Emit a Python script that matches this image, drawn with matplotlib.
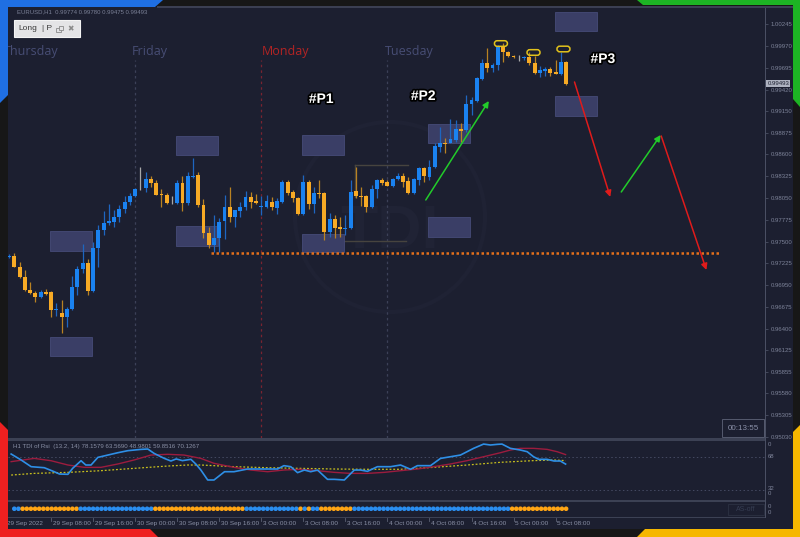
import numpy as np
import matplotlib
matplotlib.use("Agg")
import matplotlib.pyplot as plt
from matplotlib.patches import Rectangle, Polygon, FancyBboxPatch, Circle
from matplotlib import transforms
import matplotlib.patheffects as pe

W, H = 800, 537
BG = "#1c1f30"
FRAME = "#171717"

# EURUSD H1, 29 Sep 00:00 -> 5 Oct 10:00 (one entry per bar)
opens = [
    0.97305, 0.97317, 0.97178, 0.97052, 0.96888, 0.96850, 0.96799, 0.96856, 0.96862, 0.96635,
    0.96597, 0.96546, 0.96648, 0.96925, 0.97153, 0.97229, 0.96875, 0.97418, 0.97646, 0.97734,
    0.97747, 0.97810, 0.97911, 0.97999, 0.98075, 0.98164, 0.98176, 0.98290, 0.98240, 0.98101,
    0.98088, 0.97987, 0.97987, 0.98240, 0.97987, 0.98315, 0.98341, 0.97962, 0.97608, 0.97456,
    0.97545, 0.97760, 0.97936, 0.97810, 0.97886, 0.97936, 0.98063, 0.98012, 0.97936, 0.97936,
    0.97999, 0.97924, 0.97999, 0.98252, 0.98126, 0.98050, 0.97848, 0.98252, 0.97974, 0.98113,
    0.98113, 0.97620, 0.97785, 0.97684, 0.97658, 0.97671, 0.98139, 0.98075, 0.98075, 0.97936,
    0.98164, 0.98278, 0.98252, 0.98202, 0.98290, 0.98328, 0.98265, 0.98113, 0.98278, 0.98429,
    0.98315, 0.98442, 0.98695, 0.98745, 0.98745, 0.98783, 0.98922, 0.98909, 0.99238, 0.99276,
    0.99554, 0.99756, 0.99693, 0.99731, 0.99971, 0.99895, 0.99844, 0.99832, 0.99819, 0.99832,
    0.99756, 0.99630, 0.99655, 0.99680, 0.99642, 0.99617, 0.99774]
highs = [
    0.97343, 0.97355, 0.97241, 0.97140, 0.96989, 0.96875, 0.96888, 0.96900, 0.96875, 0.96723,
    0.96761, 0.96673, 0.97065, 0.97191, 0.97469, 0.97279, 0.97494, 0.97709, 0.97886, 0.97974,
    0.97898, 0.97962, 0.98075, 0.98113, 0.98176, 0.98442, 0.98379, 0.98328, 0.98278, 0.98164,
    0.98113, 0.98075, 0.98278, 0.98328, 0.98379, 0.98556, 0.98379, 0.98038, 0.97684, 0.97835,
    0.97797, 0.98088, 0.98189, 0.97898, 0.97999, 0.98139, 0.98126, 0.98101, 0.98075, 0.98088,
    0.98063, 0.98050, 0.98278, 0.98278, 0.98151, 0.98063, 0.98341, 0.98278, 0.98189, 0.98278,
    0.98126, 0.97861, 0.97835, 0.97810, 0.97835, 0.98278, 0.98442, 0.98189, 0.98088, 0.98214,
    0.98290, 0.98303, 0.98278, 0.98303, 0.98366, 0.98366, 0.98315, 0.98303, 0.98442, 0.98442,
    0.98530, 0.98745, 0.98947, 0.98808, 0.99048, 0.99036, 0.98998, 0.99352, 0.99326, 0.99579,
    0.99807, 0.99946, 0.99756, 0.99983, 1.00009, 0.99908, 0.99851, 0.99857, 0.99844, 0.99895,
    0.99844, 0.99718, 0.99705, 0.99705, 0.99794, 0.99895, 0.99780]
lows = [
    0.97292, 0.97172, 0.97039, 0.96875, 0.96837, 0.96736, 0.96787, 0.96824, 0.96546, 0.96559,
    0.96344, 0.96420, 0.96635, 0.96824, 0.97102, 0.96824, 0.96862, 0.97178, 0.97583, 0.97709,
    0.97684, 0.97747, 0.97861, 0.97962, 0.98063, 0.98151, 0.98126, 0.98189, 0.98082, 0.97936,
    0.97974, 0.97974, 0.97974, 0.97886, 0.97962, 0.98303, 0.97936, 0.97545, 0.97418, 0.97368,
    0.97368, 0.97532, 0.97747, 0.97684, 0.97810, 0.97898, 0.97924, 0.97974, 0.97835, 0.97924,
    0.97898, 0.97848, 0.97987, 0.98088, 0.97999, 0.97835, 0.97835, 0.97911, 0.97861, 0.98050,
    0.97519, 0.97557, 0.97545, 0.97557, 0.97583, 0.97658, 0.98050, 0.97949, 0.97873, 0.97924,
    0.98050, 0.98214, 0.98196, 0.98189, 0.98278, 0.98189, 0.98101, 0.98101, 0.98214, 0.98252,
    0.98278, 0.98429, 0.98631, 0.98619, 0.98739, 0.98758, 0.98758, 0.98884, 0.99099, 0.99263,
    0.99541, 0.99642, 0.99642, 0.99668, 0.99769, 0.99832, 0.99825, 0.99781, 0.99794, 0.99731,
    0.99623, 0.99579, 0.99592, 0.99592, 0.99611, 0.99604, 0.99475]
closes = [
    0.97317, 0.97178, 0.97052, 0.96888, 0.96850, 0.96799, 0.96862, 0.96837, 0.96635, 0.96648,
    0.96546, 0.96648, 0.96925, 0.97153, 0.97229, 0.96875, 0.97418, 0.97646, 0.97734, 0.97760,
    0.97810, 0.97911, 0.97999, 0.98075, 0.98164, 0.98164, 0.98290, 0.98240, 0.98088, 0.98088,
    0.97987, 0.97987, 0.98240, 0.97987, 0.98328, 0.98328, 0.97962, 0.97608, 0.97456, 0.97545,
    0.97747, 0.97936, 0.97810, 0.97898, 0.97936, 0.98063, 0.97999, 0.97987, 0.97949, 0.98012,
    0.97936, 0.98012, 0.98252, 0.98113, 0.98050, 0.97848, 0.98252, 0.97974, 0.98113, 0.98101,
    0.97620, 0.97785, 0.97671, 0.97658, 0.97671, 0.98126, 0.98075, 0.98063, 0.97936, 0.98164,
    0.98278, 0.98240, 0.98202, 0.98290, 0.98328, 0.98252, 0.98113, 0.98290, 0.98429, 0.98328,
    0.98442, 0.98707, 0.98745, 0.98733, 0.98796, 0.98922, 0.98897, 0.99238, 0.99288, 0.99566,
    0.99756, 0.99693, 0.99731, 0.99971, 0.99895, 0.99844, 0.99832, 0.99832, 0.99832, 0.99756,
    0.99630, 0.99668, 0.99680, 0.99630, 0.99617, 0.99769, 0.99493]

price_ticks = [1.00245, 0.99970, 0.99695, 0.99420, 0.99150, 0.98875, 0.98600, 0.98325, 0.98050,
               0.97775, 0.97500, 0.97225, 0.96950, 0.96675, 0.96400, 0.96125, 0.95855, 0.95580,
               0.95305, 0.95030]
last_price = 0.99493

# session boxes, 08:00-16:00 each day
zone_start = [8, 32, 56, 80, 104]
zone_len = 8
upper_top = [0.97633, 0.98834, 0.98846, 0.98985, 1.00400]
upper_bot = [0.97380, 0.98593, 0.98593, 0.98745, 1.00160]
lower_top = [0.96294, 0.97696, 0.97595, 0.97810, 0.99339]
lower_bot = [0.96054, 0.97444, 0.97368, 0.97557, 0.99086]

support_level = 0.97355
support_bars = (38.4, 135.4)

# drawn arrows (bar, price) -> (bar, price)
arrow_from = [(79.3, 0.98025), (107.6, 0.99516), (116.5, 0.98126), (124.1, 0.98834)]
arrow_to = [(91.3, 0.99276), (114.4, 0.98063), (124.0, 0.98846), (132.7, 0.97140)]
arrow_cols = ["#22cc2a", "#e01b1b", "#22cc2a", "#e01b1b"]

labels_p = ["#P1", "#P2", "#P3"]
labels_bar = [59.4, 78.8, 113.0]
labels_price = [0.99301, 0.99339, 0.99807]

top_marks_bar = [93.6, 99.8, 105.5]
top_marks_price = [1.00002, 0.99889, 0.99933]

day_names = ["Thursday", "Friday", "Monday", "Tuesday"]
day_label_bar = [-1.0, 23.4, 48.0, 71.6]
day_start = [24, 48, 72]

time_labels = ["29 Sep 2022", "29 Sep 08:00", "29 Sep 16:00", "30 Sep 00:00", "30 Sep 08:00",
               "30 Sep 16:00", "3 Oct 00:00", "3 Oct 08:00", "3 Oct 16:00", "4 Oct 00:00",
               "4 Oct 08:00", "4 Oct 16:00", "5 Oct 00:00", "5 Oct 08:00"]
time_bars = [-0.6, 8, 16, 24, 32, 40, 48, 56, 64, 72, 80, 88, 96, 104]

# TDI of RSI
tdi_title = "H1 TDI of Rsi  (13.2, 14) 78.1579 63.5690 48.9801 59.8516 70.1267"
rsi_bar = [0.4, 2.3, 4.2, 6.7, 8.6, 9.6, 11.2, 12.1, 13.7, 14.6, 15.6, 16.9, 18.8, 20.7, 22.6,
           25.1, 26.4, 27.6, 29.5, 30.8, 31.8, 33.0, 34.6, 35.6, 36.5, 37.8, 39.0, 41.0, 42.8,
           45.4, 48.5, 51.1, 52.3, 53.6, 54.9, 56.2, 57.4, 58.7, 60.6, 61.9, 63.8, 65.7, 66.9,
           68.2, 70.1, 72.6, 74.5, 76.4, 77.7, 80.2, 82.1, 84.0, 85.9, 88.4, 90.3, 91.6, 92.9,
           93.8, 95.4, 97.3, 98.6, 99.8, 100.8, 102.4, 103.7, 104.9, 105.9]
rsi_val = [70.7, 64.3, 57.1, 56.0, 51.7, 49.2, 48.9, 55.3, 63.5, 58.9, 58.9, 67.1, 69.6, 72.1,
           74.3, 75.7, 76.1, 71.4, 66.1, 63.2, 65.4, 63.6, 65.0, 59.6, 53.5, 42.8, 42.8, 51.7,
           51.7, 54.6, 54.6, 54.6, 58.2, 57.1, 50.7, 53.5, 51.7, 53.5, 43.5, 43.5, 42.8, 53.5,
           53.5, 52.1, 57.1, 57.1, 58.9, 54.3, 58.2, 58.2, 66.0, 67.8, 69.6, 76.8, 81.4, 80.4,
           81.1, 81.4, 76.8, 75.0, 73.2, 67.8, 65.0, 65.0, 63.2, 63.2, 59.9]
sig_bar = [0.4, 4.8, 8.0, 11.2, 14.3, 17.5, 20.7, 23.8, 27.0, 30.2, 33.3, 36.5, 39.0, 42.8,
           46.0, 49.2, 52.3, 55.5, 58.7, 61.9, 65.0, 68.2, 71.4, 74.5, 77.7, 80.8, 84.0, 87.2,
           90.3, 93.5, 95.4, 97.3, 99.8, 102.4, 104.3, 105.9]
sig_val = [62.5, 66.0, 63.5, 58.9, 56.4, 56.4, 60.0, 64.3, 69.6, 70.4, 69.6, 66.0, 60.7, 56.4,
           53.5, 51.7, 53.5, 54.3, 52.8, 51.0, 49.9, 49.9, 51.0, 52.8, 54.6, 57.1, 60.0, 63.6,
           67.8, 72.1, 75.0, 76.8, 76.8, 75.7, 73.2, 70.1]
mid_bar = [0.4, 4.8, 11.2, 17.5, 23.8, 30.2, 34.0, 36.5, 42.8, 49.2, 55.5, 61.9, 68.2, 74.5,
           80.8, 87.2, 93.5, 99.8, 103.7, 105.9]
mid_val = [48.1, 49.9, 51.0, 52.8, 55.3, 57.8, 58.9, 58.9, 57.1, 56.0, 55.3, 54.6, 54.3, 54.3,
           56.4, 58.9, 61.8, 63.6, 64.3, 63.6]

# trend dots, run lengths (b = up, o = down)
dot_runs = [("b", 2), ("o", 14), ("b", 18), ("o", 22), ("b", 13), ("o", 1), ("b", 1), ("o", 1),
            ("b", 2), ("o", 8), ("b", 38), ("o", 14)]


def box(x0, y0, x1, y1):
    return [x0 / W, 1 - y1 / H, (x1 - x0) / W, (y1 - y0) / H]


def ftext(x, y, s, **kw):
    fig.text(x / W, 1 - y / H, s, **kw)


def frect(x0, y0, x1, y1, fc, z=20, ec="none", lw=0):
    fig.add_artist(Rectangle((x0 / W, 1 - y1 / H), (x1 - x0) / W, (y1 - y0) / H,
                             transform=fig.transFigure, facecolor=fc, edgecolor=ec, lw=lw,
                             zorder=z))


def fpoly(pts, color):
    pts = np.array(pts, dtype=float)
    pts[:, 0] /= W
    pts[:, 1] = 1 - pts[:, 1] / H
    fig.add_artist(Polygon(pts, closed=True, transform=fig.transFigure, color=color, lw=0, zorder=30))


plt.rcParams["font.family"] = ["Liberation Sans", "DejaVu Sans"]
fig = plt.figure(figsize=(8, 5.37), dpi=100, facecolor=FRAME)

bg = fig.add_axes(box(8, 7, 793, 529), zorder=-10)
bg.set_facecolor(BG)
bg.set_xticks([])
bg.set_yticks([])
for s in bg.spines.values():
    s.set_visible(False)

XL = (-0.2, 143.85)

# watermark (very faint)
fig.add_artist(Circle((3.9, 3.2), 0.95, transform=fig.dpi_scale_trans, fill=False,
                      ec="#1f2234", lw=3, zorder=-5))
fig.text(3.9 / 8, 3.05 / 5.37, "TDI", color="#202335", fontsize=44, fontweight="bold",
         ha="center", va="center", zorder=-5)

# ---- main price panel ----
ax = fig.add_axes(box(8, 8, 765, 438))
ax.set_facecolor("none")
ax.set_xlim(*XL)
ax.set_ylim(0.95017, 1.00451)
for s in ax.spines.values():
    s.set_visible(False)
ax.set_xticks([])
ax.yaxis.tick_right()
ax.set_yticks(price_ticks)
ax.set_yticklabels([f"{v:.5f}" for v in price_ticks])
ax.tick_params(axis="y", length=2.5, width=0.6, color="#4a4f63", labelcolor="#7d8399",
               labelsize=4.3, pad=1.5)

t = np.arange(len(opens))
o = np.array(opens)
c = np.array(closes)
hi = np.array(highs)
lo = np.array(lows)
up = c > o
dn = c < o
body_col = np.where(up, "#1a82f0", np.where(dn, "#f7aa25", "#a8a8a8"))
wick_col = np.where(up, "#1e66c0", np.where(dn, "#b98222", "#a8a8a8"))

# session boxes
for z0, ut, ub, lt, lb in zip(zone_start, upper_top, upper_bot, lower_top, lower_bot):
    for top, bot in ((ut, ub), (lt, lb)):
        ax.add_patch(Rectangle((z0 - 0.2, bot), zone_len, top - bot, fc="#3a3e66",
                               ec="#464b78", lw=0.6, zorder=1))

# day separators
for d, col in zip(day_start, ["#3c4158", "#7a2430", "#3c4158"]):
    ax.axvline(d, ymin=0, ymax=0.879, color=col, lw=0.9, ls=(0, (2, 2.5)), zorder=0.5)
for name, xb in zip(day_names, day_label_bar):
    ax.text(xb, 0.898, name, transform=transforms.blended_transform_factory(ax.transData, ax.transAxes),
            color="#b32424" if name == "Monday" else "#474d74", fontsize=9, family=["Open Sans", "DejaVu Sans"],
            ha="left", va="center", clip_on=False)

# faint box from the logo
ax.plot([65.8, 75.9], [0.98467, 0.98467], color="#47443f", lw=1, zorder=0.8)
ax.plot([65.8, 65.8], [0.98467, 0.98063], color="#47443f", lw=1, zorder=0.8)
ax.plot([59.9, 75.5], [0.97507, 0.97507], color="#47443f", lw=1, zorder=0.8)

ax.vlines(t, lo, hi, colors=wick_col, lw=0.9, zorder=3)
ax.bar(t, np.abs(c - o), bottom=np.minimum(o, c), width=0.74, color=body_col, lw=0, zorder=4)

ax.plot(support_bars, [support_level, support_level], color="#e4701c", lw=1.8,
        ls=(0, (1, 1)), zorder=5)

for a, b, col in zip(arrow_from, arrow_to, arrow_cols):
    ax.annotate("", xy=b, xytext=a, annotation_clip=False,
                arrowprops=dict(arrowstyle="-|>", color=col, lw=1.1, mutation_scale=9,
                                shrinkA=0, shrinkB=0), zorder=6)

for s, xb, yp in zip(labels_p, labels_bar, labels_price):
    ax.text(xb, yp, s, color="white", fontsize=10, fontweight="bold", ha="center", va="center",
            zorder=7, path_effects=[pe.withStroke(linewidth=2.5, foreground="black")])

for xb, yp in zip(top_marks_bar, top_marks_price):
    tr = fig.dpi_scale_trans + transforms.ScaledTranslation(xb, yp, ax.transData)
    ax.add_artist(FancyBboxPatch((-0.065, -0.028), 0.13, 0.056,
                                 boxstyle="round,pad=0,rounding_size=0.028",
                                 transform=tr, fc="none", ec="#e2c21c", lw=1.1, zorder=6))

ax.text(1.003, last_price, f"{last_price:.5f}", transform=transforms.blended_transform_factory(ax.transAxes, ax.transData),
        fontsize=4.3, color="#1c1f30", ha="left", va="center", clip_on=False, zorder=8,
        bbox=dict(boxstyle="square,pad=0.15", fc="#aeb2c0", ec="none"))

# ---- TDI panel ----
ax2 = fig.add_axes(box(8, 441, 765, 500))
ax2.set_facecolor("none")
ax2.set_xlim(*XL)
ax2.set_ylim(21.3, 84.7)
ax2.axis("off")
for lvl in (68, 32):
    ax2.axhline(lvl, color="#454a62", lw=0.7, ls=(0, (1.5, 2.5)))
ax2.plot(mid_bar, mid_val, color="#c8c01e", lw=0.9, ls=(0, (1.5, 1.5)))
ax2.plot(sig_bar, sig_val, color="#9c1c3e", lw=1.0)
ax2.plot(rsi_bar, rsi_val, color="#2e8fe6", lw=1.2)
ftext(13, 446.5, tdi_title, fontsize=4.4, color="#8a90a6", va="center", zorder=7)

# ---- trend dots panel ----
ax3 = fig.add_axes(box(8, 502, 765, 517))
ax3.set_facecolor("none")
ax3.set_xlim(*XL)
ax3.set_ylim(0, 1)
ax3.axis("off")
dot_cols = [("#2a8ef0" if k == "b" else "#ffa514") for k, n in dot_runs for _ in range(n)]
dot_x = np.linspace(1.0, 106.0, len(dot_cols))
ax3.scatter(dot_x, np.full(len(dot_x), 0.55), c=dot_cols, s=11, lw=0)

bt = transforms.blended_transform_factory(ax3.transData, fig.transFigure)
for lab, xb in zip(time_labels, time_bars):
    if xb > 0:
        ax3.plot([xb, xb], [1 - 517.5 / H, 1 - 521 / H], transform=bt, color="#5a5f72",
                 lw=0.6, clip_on=False)
    ax3.text(xb + 0.3, 1 - 523.5 / H, lab, transform=bt, fontsize=4.6, color="#8a90a6",
             ha="left", va="center", clip_on=False)

# panel lines
frect(157, 6, 793, 8, "#3b3f52", z=5)
frect(8, 438, 765, 440.5, "#3c4154", z=5)
frect(8, 500, 765, 502, "#3c4154", z=5)
frect(8, 516.5, 765, 517.5, "#3c4154", z=5)
frect(764.5, 8, 765.5, 517.5, "#4a4f63", z=5)

# right side indicator labels
for yy, s in [(444.5, "0"), (456.5, "68"), (489, "32"), (493.5, "0"), (506.5, "0"), (513, "0")]:
    ftext(768, yy, s, fontsize=4.3, color="#7d8399", va="center")

# clock box and AS-off box
frect(722, 419, 764, 437, BG, z=6, ec="#555a6e", lw=0.7)
ftext(743, 428, "00:13:55", fontsize=5.8, color="#8a90a8", ha="center", va="center", zorder=7)
frect(728, 504, 764, 515, "none", z=6, ec="#2c3143", lw=0.6)
ftext(746, 509.5, "AS-off", fontsize=5, color="#363d52", ha="center", va="center", zorder=7)

# top-left info
ftext(17, 12, "EURUSD,H1  0.99774 0.99780 0.99475 0.99493", fontsize=4.3, color="#7a8096",
      va="center", zorder=7)
frect(14, 20, 80, 37, "#e4e4e6", z=7, ec="#f4f4f4", lw=0.8)
ftext(18, 28.5, "Long", fontsize=6, color="#3a3a3a", va="center", zorder=8)
ftext(42, 28.5, "| P", fontsize=6, color="#3a3a3a", va="center", zorder=8)
# two joined squares icon
frect(56.5, 27.5, 60.5, 31.5, "none", z=8, ec="#8a8a8a", lw=0.6)
frect(58.5, 25.5, 62.5, 29.5, "#e4e4e6", z=8.5, ec="#8a8a8a", lw=0.6)
ftext(67, 28.5, "✖", fontsize=5.5, color="#8a8a8a", va="center", zorder=8,
      family=["DejaVu Sans", "Noto Sans"])

# frame corners
fpoly([(0, 0), (163, 0), (155, 7), (8, 7), (8, 95), (0, 103)], "#1f6fe3")
fpoly([(637, 0), (800, 0), (800, 107), (793, 99), (793, 5), (643, 5)], "#1db424")
fpoly([(0, 422), (8, 430), (8, 529), (150, 529), (158, 537), (0, 537)], "#ee2020")
fpoly([(800, 425), (800, 537), (637, 537), (645, 529), (793, 529), (793, 432)], "#f6b700")
frect(0, 103, 8, 422, FRAME, z=25)
frect(163, 0, 637, 6, FRAME, z=4)
frect(158, 529, 637, 537, FRAME, z=25)
frect(793, 107, 800, 425, FRAME, z=25)

fig.savefig("out.png", dpi=100, facecolor=FRAME)
